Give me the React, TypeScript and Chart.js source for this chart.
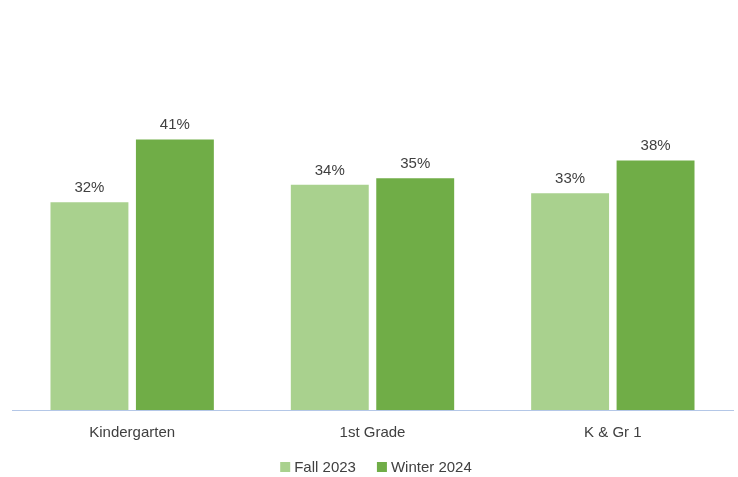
import React, { useEffect, useRef } from "react";
import { Chart, registerables } from "chart.js";

Chart.register(...registerables);

const categories = ["Kindergarten", "1st Grade", "K & Gr 1"];
const fall2023 = [31.7, 34.4, 33.1];
const winter2024 = [41.3, 35.4, 38.1];
const seriesNames = ["Fall 2023", "Winter 2024"];
const seriesColors = ["#A9D18E", "#70AD47"];

const FONT = "'Liberation Sans', Arial, sans-serif";
const TEXT = "#404040";

const valueLabels = {
  id: "valueLabels",
  afterDatasetsDraw(chart: any) {
    const ctx = chart.ctx;
    ctx.save();
    ctx.font = `15px ${FONT}`;
    ctx.fillStyle = TEXT;
    ctx.textAlign = "center";
    ctx.textBaseline = "alphabetic";
    chart.data.datasets.forEach((ds: any, i: number) => {
      const meta = chart.getDatasetMeta(i);
      meta.data.forEach((bar: any, j: number) => {
        const v = ds.data[j];
        ctx.fillText(Math.round(v) + "%", bar.x, bar.y - 10);
      });
    });
    ctx.restore();
  },
};

const bottomLegend = {
  id: "bottomLegend",
  afterDraw(chart: any) {
    const ctx = chart.ctx;
    ctx.save();
    ctx.font = `15px ${FONT}`;
    ctx.textBaseline = "middle";
    ctx.textAlign = "left";
    const box = 10;
    const gapText = 4;
    const gapItem = 21;
    const items = chart.data.datasets.map((ds: any) => ({
      text: ds.label,
      color: ds.backgroundColor,
      w: box + gapText + ctx.measureText(ds.label).width,
    }));
    const total = items.reduce((s: number, it: any) => s + it.w, 0) + gapItem * (items.length - 1);
    let x = 376 - total / 2;
    const cy = 467;
    items.forEach((it: any) => {
      ctx.fillStyle = it.color;
      ctx.fillRect(x, cy - box / 2, box, box);
      ctx.fillStyle = TEXT;
      ctx.fillText(it.text, x + box + gapText, cy + 1);
      x += it.w + gapItem;
    });
    ctx.restore();
  },
};

export default function App() {
  const ref = useRef<HTMLCanvasElement>(null);
  useEffect(() => {
    document.body.style.margin = "0";
    const chart = new Chart(ref.current!, {
      type: "bar",
      data: {
        labels: categories,
        datasets: [
          { label: seriesNames[0], data: fall2023, backgroundColor: seriesColors[0] },
          { label: seriesNames[1], data: winter2024, backgroundColor: seriesColors[1] },
        ],
      },
      options: {
        animation: false,
        responsive: false,
        maintainAspectRatio: false,
        layout: { padding: { left: 12, right: 5, top: 17, bottom: 21 } },
        datasets: {
          bar: { categoryPercentage: 0.711, barPercentage: 0.912 },
        } as any,
        scales: {
          x: {
            grid: { display: false, drawTicks: false },
            border: { display: true, color: "#B4C7E7", width: 1 },
            ticks: { color: TEXT, font: { family: FONT, size: 15 }, padding: 14 },
          },
          y: {
            display: false,
            min: 0,
            max: 60,
          },
        },
        plugins: {
          legend: { display: false },
          tooltip: { enabled: false },
        },
      },
      plugins: [valueLabels, bottomLegend],
    });
    return () => chart.destroy();
  }, []);
  return <canvas ref={ref} width={738} height={477} style={{ display: "block" }} />;
}
